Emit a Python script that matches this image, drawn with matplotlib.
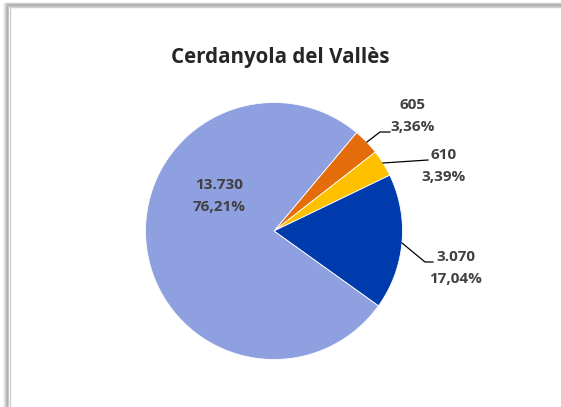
import matplotlib.pyplot as plt
import numpy as np
from matplotlib.patches import Rectangle

# data (order as drawn clockwise from the orange slice)
values = [605, 610, 3070, 13730]
colors = ['#E46C0A', '#FFC000', '#003BAE', '#8FA0E1']
title = 'Cerdanyola del Vallès'

W, H = 561, 407


def fmt_int(v):
    return f'{v:,}'.replace(',', '.')


def fmt_pct(p):
    return f'{p:.2f}%'.replace('.', ',')


fig = plt.figure(figsize=(W / 100, H / 100), dpi=100)
ax = fig.add_axes([0, 0, 1, 1])
ax.set_xlim(0, W)
ax.set_ylim(H, 0)
ax.axis('off')

# chart frame with a soft shadow on the left / top
for i, a in enumerate([0.10, 0.20, 0.32, 0.45, 0.60]):
    ax.add_patch(Rectangle((4.5 + i, 3 + i * 0.7), W, H, fill=False,
                           edgecolor=(0.55, 0.55, 0.55, a), linewidth=1.2))
ax.add_patch(Rectangle((10.5, 7), W, H, facecolor='white',
                       edgecolor='#CFCFCF', linewidth=1))

# pie drawn in pixel space
cx, cy, r = 274, 231, 128.5
total = sum(values)
angles = np.cumsum([0] + values) / total * 360
start = 50
for i, v in enumerate(values):
    t1 = start - angles[i]
    t2 = start - angles[i + 1]
    ts = np.linspace(np.radians(t2), np.radians(t1), 200)
    xs = np.r_[cx, cx + r * np.cos(ts), cx]
    ys = np.r_[cy, cy - r * np.sin(ts), cy]
    ax.fill(xs, ys, color=colors[i], edgecolor='white', linewidth=0.6, zorder=2)

labels = [f'{fmt_int(v)}\n{fmt_pct(v / total * 100)}' for v in values]
label_pos = [(413, 116), (444, 166), (456, 268), (219, 196)]
font = dict(family='Open Sans', fontsize=11, fontweight='bold', color='#404040')
for (x, y), s in zip(label_pos, labels):
    ax.text(x, y, s, ha='center', va='center', linespacing=1.7, zorder=4, **font)

# leader lines for the outer labels
leaders = [
    [(367, 142), (380, 132), (390, 132)],
    [(383, 163), (428, 160)],
    [(402, 243), (425, 262), (433, 262)],
]
for pts in leaders:
    xs, ys = zip(*pts)
    ax.plot(xs, ys, color='black', linewidth=0.9, zorder=3)

ax.text(280, 57, title, ha='center', va='center', family='Open Sans',
        fontsize=14.8, fontweight='bold', color='#262626')

fig.savefig('out.png', dpi=100)
